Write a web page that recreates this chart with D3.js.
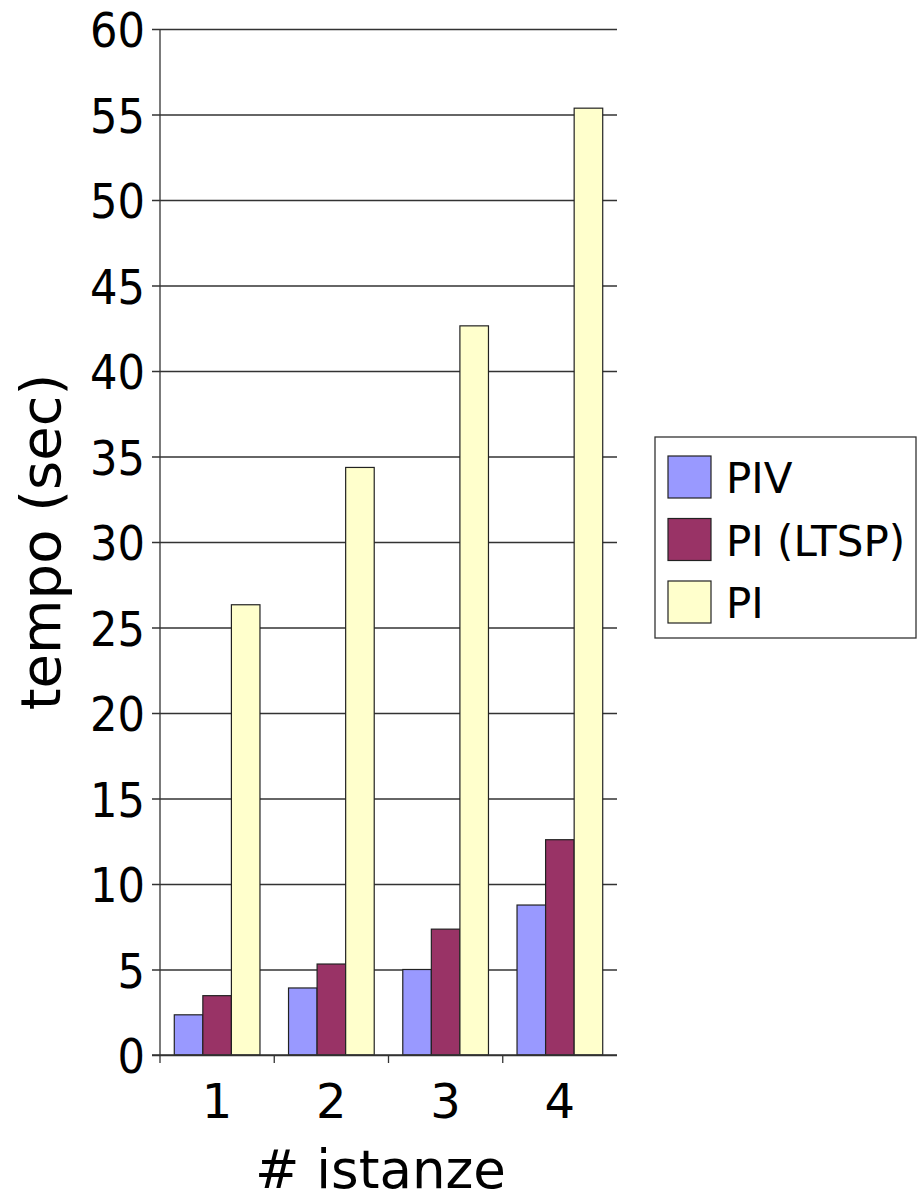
<!DOCTYPE html>
<html><head><meta charset="utf-8">
<script src="https://cdn.jsdelivr.net/npm/d3@7"></script>
<style>body{margin:0;background:#fff}svg{display:block}text{font-family:"DejaVu Sans",sans-serif;fill:#000}</style>
</head><body><svg id="c" width="917" height="1200"></svg>
<script>
const categories = ["1","2","3","4"];
const seriesNames = ["PIV","PI (LTSP)","PI"];
const seriesColors = ["#9999ff","#993366","#ffffcc"];
const valuesPIV = [2.35, 3.92, 5.0, 8.77];
const valuesPILTSP = [3.47, 5.32, 7.36, 12.59];
const valuesPI = [26.33, 34.36, 42.64, 55.37];
const yTicks = [0,5,10,15,20,25,30,35,40,45,50,55,60];
const xTitle = "# istanze";
const yTitle = "tempo (sec)";

const series = [valuesPIV, valuesPILTSP, valuesPI];
const svg = d3.select("#c");
const L = 160, R = 617, T = 29, B = 1055;
const y = d3.scaleLinear().domain([0,60]).range([B,T]);
const x0 = d3.scaleBand().domain(categories).range([L,R]).padding(0);
const x1 = d3.scaleBand().domain(d3.range(seriesNames.length)).range([0,x0.bandwidth()]).paddingInner(0).paddingOuter(0.5);
const lineCol = "#333";

// gridlines + y axis ticks
const yAxis = d3.axisLeft(y).tickValues(yTicks).tickSize(-(R-L)).tickSizeOuter(0).tickFormat(d3.format("d"));
const gy = svg.append("g").attr("transform",`translate(${L},0)`).call(yAxis);
gy.select(".domain").remove();
gy.selectAll(".tick line").attr("stroke",lineCol).attr("stroke-width",1.3).attr("x1",-8);
gy.selectAll(".tick text").attr("font-size",48).attr("dy","0.37em").attr("x",0)
  .attr("transform","translate(-15,0) scale(0.9,1)");

// bars
categories.forEach((c,ci)=>{
  series.forEach((vals,si)=>{
    svg.append("rect")
      .attr("x", x0(c)+x1(si)).attr("width", x1.bandwidth())
      .attr("y", y(vals[ci])).attr("height", y(0)-y(vals[ci]))
      .attr("fill", seriesColors[si]).attr("stroke","#222").attr("stroke-width",1.2);
  });
});

// y axis line
svg.append("line").attr("x1",L).attr("x2",L).attr("y1",T).attr("y2",B).attr("stroke",lineCol).attr("stroke-width",1.3);

// x axis
const xAxis = d3.axisBottom(x0).tickSize(0).tickPadding(0);
const gx = svg.append("g").attr("transform",`translate(0,${B})`).call(xAxis);
gx.select(".domain").remove();
gx.selectAll(".tick text").attr("font-size",48).attr("y",63).attr("dy",0);
svg.append("line").attr("x1",L-8).attr("x2",R).attr("y1",B).attr("y2",B).attr("stroke",lineCol).attr("stroke-width",1.3);
const sep = categories.map(c=>x0(c));
svg.selectAll(".sep").data(sep).enter().append("line")
  .attr("x1",d=>d).attr("x2",d=>d).attr("y1",B).attr("y2",B+8).attr("stroke",lineCol).attr("stroke-width",1.3);

// titles
svg.append("text").attr("x",(L+R)/2 - 8).attr("y",1188).attr("text-anchor","middle").attr("font-size",53).text(xTitle);
svg.append("text").attr("transform","translate(60,542) rotate(-90)").attr("text-anchor","middle").attr("font-size",56).text(yTitle);

// legend
const lg = svg.append("g");
lg.append("rect").attr("x",655).attr("y",437).attr("width",261).attr("height",201).attr("fill","#fff").attr("stroke",lineCol).attr("stroke-width",1.3);
seriesNames.forEach((n,i)=>{
  const yy = 456 + i*62.5;
  lg.append("rect").attr("x",668).attr("y",yy).attr("width",43).attr("height",42).attr("fill",seriesColors[i]).attr("stroke","#222").attr("stroke-width",1.2);
  lg.append("text").attr("x",726).attr("y",yy+37).attr("font-size",42).text(n);
});
</script></body></html>
